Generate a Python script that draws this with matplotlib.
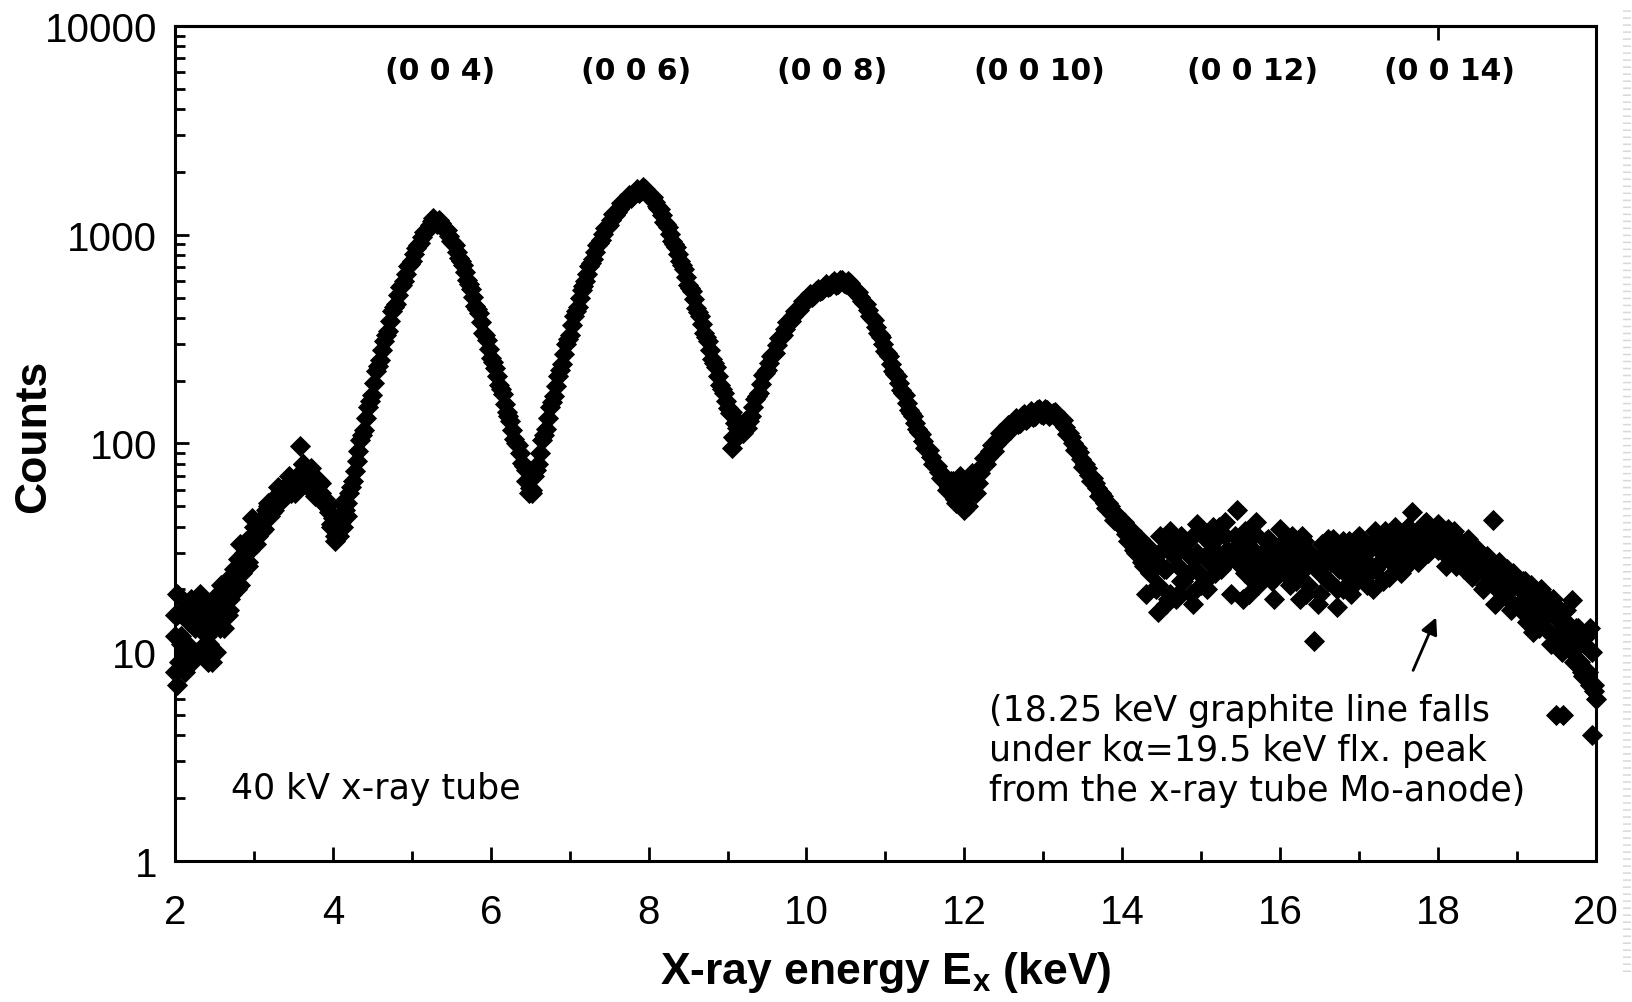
import numpy as np
import matplotlib
matplotlib.use('Agg')
import matplotlib.pyplot as plt
from matplotlib.lines import Line2D

# Spectrum channels: set A at 2.000, 2.050, ... and set B in between (2.025, 2.075, ...)
energy_a = np.round(np.arange(2.0, 20.0001, 0.05), 3)
energy_b = np.round(np.arange(2.025, 19.99, 0.05), 3)

counts_a = [
    12, 9, 16, 11, 18, 13, 10, 15, 12, 17, 14, 19, 16, 22, 18, 25, 28, 24, 34, 31,  # 2
    40, 36, 44, 48, 45, 55, 52, 60, 57, 65, 62, 70, 68, 74, 66, 70, 62, 58, 54, 47,  # 3
    44, 38, 42, 48, 58, 66, 82, 104, 116, 150, 170, 222, 252, 310, 345, 432, 468, 560, 598, 705,  # 4
    745, 868, 912, 1030, 1060, 1165, 1160, 1175, 1080, 1050, 930, 890, 770, 715, 605, 552, 458, 420, 340, 312,  # 5
    258, 231, 190, 172, 141, 128, 105, 98, 81, 75, 61, 70, 80, 104, 117, 150, 168, 210, 240, 298,  # 6
    332, 410, 450, 545, 598, 705, 765, 890, 940, 1075, 1115, 1255, 1285, 1420, 1430, 1550, 1545, 1650, 1620, 1660,  # 7
    1540, 1520, 1370, 1330, 1150, 1085, 930, 870, 745, 685, 575, 535, 445, 410, 338, 308, 254, 232, 190, 175,  # 8
    148, 142, 125, 126, 116, 129, 136, 163, 175, 212, 224, 262, 272, 320, 332, 380, 386, 432, 436, 482,  # 9
    480, 522, 515, 552, 545, 578, 565, 598, 582, 610, 582, 588, 540, 532, 480, 466, 410, 390, 338, 322,  # 10
    278, 262, 222, 210, 180, 170, 144, 136, 117, 111, 95, 93, 80, 78, 68, 69, 62, 63, 56, 64,  # 11
    55, 63, 62, 71, 72, 85, 86, 98, 99, 112, 110, 122, 120, 132, 126, 138, 132, 143, 136, 146,  # 12
    137, 144, 138, 142, 130, 129, 111, 108, 93, 91, 77, 76, 66, 65, 56, 56, 49, 50, 43, 44,  # 13
    40, 37, 36, 31, 33, 27, 30, 24, 28, 21, 31, 25, 19, 29, 26, 22, 33, 24, 28, 30,  # 14
    21, 29, 27, 34, 30, 25, 36, 28, 31, 27, 33, 24, 29, 22, 30, 26, 23, 31, 28, 25,  # 15
    29, 24, 32, 27, 22, 28, 25, 21, 29, 26, 24, 30, 22, 27, 31, 25, 20, 28, 26, 31,  # 16
    24, 29, 27, 33, 25, 31, 28, 34, 29, 26, 32, 35, 30, 27, 36, 32, 29, 37, 33, 35,  # 17
    31, 37, 34, 30, 35, 28, 32, 26, 30, 24, 28, 25, 21, 26, 23, 20, 24, 19, 22, 17,  # 18
    21, 16, 19, 17, 14, 18, 15, 13, 17, 12, 15, 14, 11, 13, 10, 12, 9, 11, 8, 10,  # 19
    6,  # 20
]

counts_b = [
    15, 11, 8, 14, 16, 10, 13, 17, 11, 9, 15, 13, 20, 15, 19, 23, 21, 30, 27, 36,  # 2
    33, 42, 39, 50, 47, 52, 58, 55, 63, 58, 67, 64, 80, 63, 72, 60, 66, 52, 50, 41,  # 3
    36, 45, 40, 52, 62, 74, 92, 110, 132, 160, 195, 236, 280, 330, 385, 450, 515, 575, 650, 725,  # 4
    805, 890, 975, 1040, 1110, 1200, 1130, 1140, 1060, 990, 910, 830, 745, 660, 580, 505, 440, 380, 330, 285,  # 5
    245, 210, 182, 155, 135, 116, 101, 90, 78, 66, 58, 75, 90, 110, 132, 158, 188, 225, 268, 315,  # 6
    370, 430, 495, 570, 650, 735, 825, 915, 1005, 1095, 1180, 1250, 1330, 1400, 1490, 1500, 1600, 1580, 1690, 1570,  # 7
    1510, 1440, 1350, 1240, 1120, 1005, 900, 805, 715, 630, 555, 490, 425, 372, 322, 280, 242, 210, 182, 160,  # 8
    140, 108, 118, 112, 128, 128, 150, 168, 192, 218, 242, 268, 295, 325, 355, 382, 408, 432, 458, 476,  # 9
    500, 505, 535, 540, 562, 560, 590, 575, 605, 585, 600, 560, 535, 505, 470, 438, 398, 360, 330, 300,  # 10
    270, 240, 215, 195, 175, 156, 140, 125, 114, 103, 94, 86, 79, 73, 67, 60, 66, 54, 60, 52,  # 11
    60, 58, 66, 65, 78, 80, 92, 92, 105, 106, 116, 116, 128, 124, 135, 130, 140, 134, 145, 138,  # 12
    146, 136, 140, 132, 128, 120, 112, 100, 95, 84, 80, 71, 68, 61, 58, 52, 52, 46, 46, 41,  # 13
    42, 34, 38, 30, 35, 26, 32, 29, 20, 36, 25, 18, 34, 18, 32, 22, 30, 19, 37, 24,  # 14
    36, 20, 33, 24, 40, 26, 31, 19, 36, 28, 18, 33, 25, 37, 21, 30, 34, 23, 18, 31,  # 15
    26, 35, 21, 31, 24, 36, 19, 30, 26, 17, 33, 27, 22, 35, 20, 30, 24, 34, 21, 29,  # 16
    34, 23, 31, 20, 35, 27, 38, 23, 34, 29, 24, 32, 40, 33, 28, 36, 41, 30, 35, 39,  # 17
    36, 30, 39, 33, 26, 34, 25, 35, 23, 31, 25, 20, 29, 22, 17, 27, 19, 25, 16, 21,  # 18
    17, 22, 14, 21, 15, 13, 19, 15, 11, 17, 12, 10, 14, 11, 9, 13, 8, 12, 7, 7,  # 19
]

# stray channels that sit away from the main band
extra_energy = [
    2.00, 2.00, 2.02, 2.03, 2.08, 2.12, 2.15, 2.18, 2.22, 2.27, 2.32, 2.38, 2.42, 2.47, 2.52,
    2.58, 2.62, 2.68, 2.72, 2.78, 2.82, 2.88, 2.92, 2.98, 3.05, 3.10, 3.18, 3.25, 3.30, 3.38,
    3.45, 3.52, 3.58, 3.62, 3.68, 3.72, 3.78, 3.85, 3.92, 3.98, 4.03, 4.08, 4.12, 4.18,
    6.45, 6.48, 6.52, 9.05, 9.10, 9.20, 9.25,
    11.85, 11.90, 11.95, 12.00, 12.05, 12.10, 12.15,
    14.30, 14.45, 14.55, 14.60, 14.70, 14.75, 14.90, 14.95, 15.05, 15.15, 15.30, 15.45, 15.55,
    15.60, 15.70, 15.85, 15.90, 16.00, 16.15, 16.25, 16.30, 16.43, 16.50, 16.60, 16.72, 16.80,
    16.90, 17.00, 17.10, 17.20, 17.30, 17.45, 17.55, 17.67, 17.75, 17.85, 18.00, 18.10, 18.20,
    18.35, 18.50, 18.65, 18.70, 18.80, 18.95, 19.10, 19.20, 19.30, 19.45, 19.50, 19.58, 19.62,
    19.70, 19.75, 19.83, 19.88, 19.92, 19.95, 19.98,
]
extra_counts = [
    15, 8, 19, 7, 12, 10, 17, 14, 9, 16, 19, 11, 9, 13, 10,
    21, 13, 16, 23, 20, 33, 29, 26, 44, 42, 38, 52, 48, 62, 55,
    70, 58, 97, 80, 62, 76, 56, 65, 50, 40, 34, 36, 52, 45,
    66, 58, 60, 95, 105, 112, 118,
    66, 52, 70, 48, 50, 72, 58,
    19, 15.5, 17, 38, 19, 36, 17, 41, 22, 40, 42, 48, 38,
    19, 42, 35, 22, 39, 36, 18, 34, 11.3, 19, 35, 16.5, 34,
    19, 36, 21, 38, 22, 40, 25, 47, 27, 42, 41, 26, 38,
    33, 31, 28, 43, 26, 24, 22, 12.5, 20, 18, 5.0, 5.0, 16,
    17.7, 13, 7.7, 12, 13, 4.0, 6.5,
]

# reflection orders labelled above the peaks
hkl_labels = ['(0 0 4)', '(0 0 6)', '(0 0 8)', '(0 0 10)', '(0 0 12)', '(0 0 14)']
hkl_energy = [5.36, 7.84, 10.33, 12.95, 15.65, 18.14]

plt.rcParams['mathtext.fontset'] = 'custom'
plt.rcParams['mathtext.rm'] = 'Liberation Sans'
plt.rcParams['mathtext.bf'] = 'Liberation Sans:bold'

fig = plt.figure(figsize=(16.32, 10.03), dpi=100)
ax = fig.add_axes([0.1072, 0.1406, 0.8707, 0.8325])

marker_style = dict(linestyle='none', marker='D', markersize=10, color='black',
                    markeredgewidth=0.6, clip_on=False, zorder=3)
ax.plot(energy_a, counts_a, **marker_style)
ax.plot(energy_b, counts_b, **marker_style)
ax.plot(extra_energy, extra_counts, **marker_style)

ax.set_yscale('log')
ax.set_xlim(2, 20)
ax.set_ylim(1, 10000)
ax.set_xticks(range(2, 21, 2))
ax.set_xticks(range(3, 20, 2), minor=True)
ax.set_yticks([1, 10, 100, 1000, 10000])
ax.set_yticklabels(['1', '10', '100', '1000', '10000'])
ax.yaxis.set_minor_locator(matplotlib.ticker.LogLocator(base=10, subs=np.arange(2, 10)))
ax.yaxis.set_minor_formatter(matplotlib.ticker.NullFormatter())

for s in ax.spines.values():
    s.set_linewidth(2.2)
ax.tick_params(which='both', direction='in', width=2, top=False, right=False)
ax.tick_params(which='major', length=10)
ax.tick_params(which='minor', length=7.5)
ax.tick_params(axis='x', which='major', pad=23)
ax.tick_params(axis='y', which='major', pad=13)
for lab in ax.get_xticklabels() + ax.get_yticklabels():
    lab.set_fontfamily('Liberation Sans')
    lab.set_fontsize(29)

# single tick on the top edge
top = ax.secondary_xaxis('top')
top.set_xticks([18])
top.set_xticklabels([])
top.tick_params(direction='in', length=10, width=2)
top.spines['top'].set_linewidth(2.2)

ax.set_xlabel(r'X-ray energy $\mathbf{E_x}$ (keV)', fontfamily='Liberation Sans',
              fontweight='bold', fontsize=32)
ax.xaxis.set_label_coords(0.5, -0.105)
ax.set_ylabel('Counts', fontfamily='Liberation Sans', fontweight='bold', fontsize=32)
ax.yaxis.set_label_coords(-0.085, 0.51)

for lab, e in zip(hkl_labels, hkl_energy):
    ax.text(e, 6150, lab, ha='center', va='center', fontfamily='DejaVu Sans',
            fontweight='bold', fontsize=21.5)

ax.text(2.71, 2.24, '40 kV x-ray tube', ha='left', va='center',
        fontfamily='DejaVu Sans', fontsize=25)
ax.text(12.31, 3.40, '(18.25 keV graphite line falls\nunder k\u03b1=19.5 keV flx. peak\n'
        'from the x-ray tube Mo-anode)', ha='left', va='center',
        fontfamily='DejaVu Sans', fontsize=25, linespacing=1.22)
ax.annotate('', xy=(17.99, 15.1), xytext=(17.67, 7.96),
            arrowprops=dict(arrowstyle='-|>', color='black', lw=2, mutation_scale=25))

# faint striped strip along the right edge
fig.add_artist(Line2D([0.997, 0.997], [0.03, 0.99], transform=fig.transFigure,
                      lw=5.8, color='#d9d9d9', dashes=(0.19, 0.68),
                      dash_capstyle='butt'))

plt.savefig('out.png', dpi=100)
